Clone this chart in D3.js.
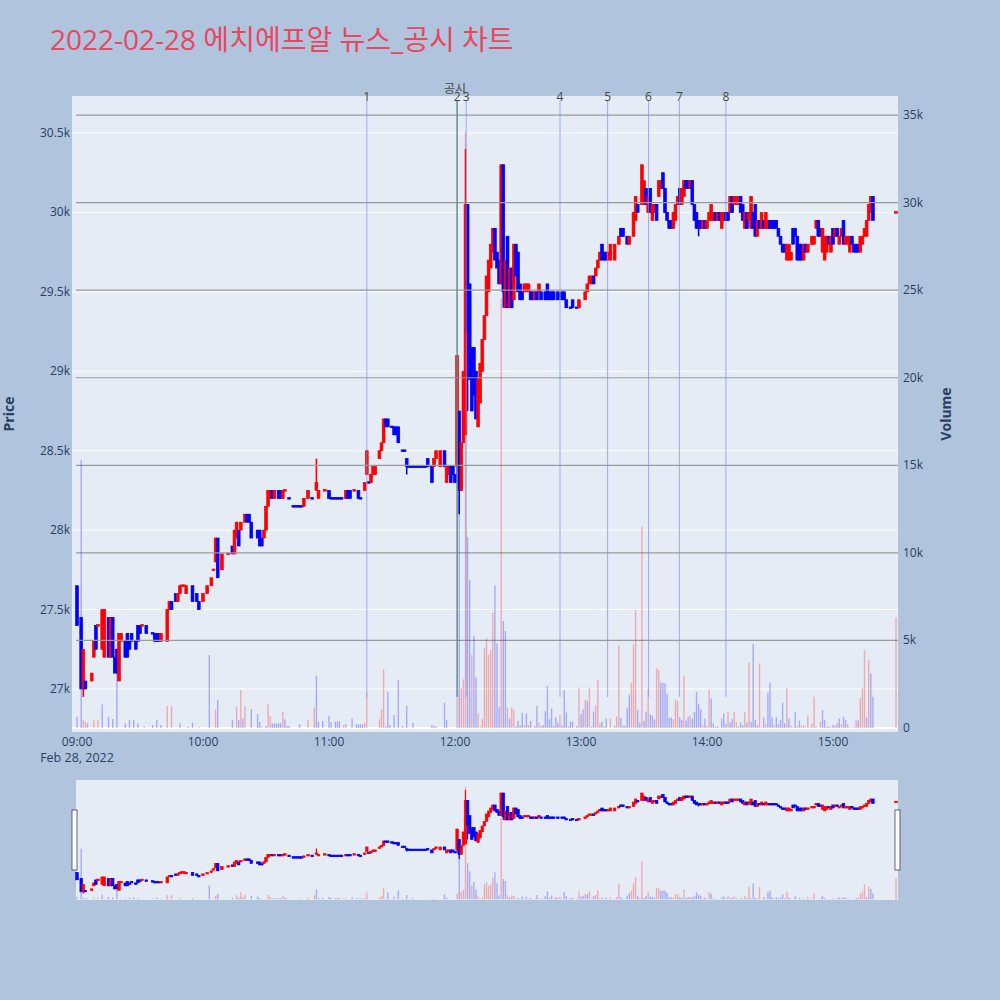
<!DOCTYPE html>
<html><head><meta charset="utf-8">
<script src="https://cdn.jsdelivr.net/npm/d3@7"></script>
<style>html,body{margin:0;padding:0;background:#b0c4de;} svg{display:block}</style>
</head><body>
<svg id="chart" width="1000" height="1000"></svg>
<script>
// ---------------- DATA ----------------
const chartTitle = "2022-02-28 에치에프알 뉴스_공시 차트";
// candle minute offsets from 09:00
const candleMinute = [
0,2,3,4,7,8,9,10,12,13, 15,16,17,18,19,20,21,23,24,25, 26,28,29,30,31,33,36,37,38,39,
40,43,44,45,47,48,49,50,51,52, 55,57,58,60,62,64,65,66,67,69, 72,74,75,76,77,78,80,81,82,83,
86,87,88,89,90,91,92,93,94,96, 97,98,99,101,103,104,105,106,107,108, 110,112,114,115,118,120,121,122,123,124,
125,126,128,129,130,132,134,135,137,138, 139,140,141,142,144,145,146,147,148,150, 151,152,153,155,156,157,158,159,160,161,
162,163,164,165,166,167,169,170,171,173, 175,176,177,178,179,180,181,182,183,184, 185,186,187,188,189,190,191,192,193,194,
195,196,197,198,199,200,201,202,203,204, 205,206,207,208,209,210,211,212,213,214, 215,216,217,218,219,220,221,223,224,225,
226,227,229,231,232,233,235,236,238,239, 242,243,244,245,246,247,248,249,250,251, 252,253,254,256,258,259,260,262,263,265,
266,267,269,270,271,272,273,274,275,276, 277,278,279,280,281,282,283,284,285,286, 287,288,289,290,291,292,293,294,295,296,
297,298,299,300,301,302,303,304,305,306, 307,308,309,310,311,312,313,314,315,316, 317,318,319,320,321,322,323,324,325,326,
327,328,329,330,331,332,333,334,335,336, 337,338,339,340,341,342,343,344,345,346, 347,348,350,351,352,353,354,355,356,357,
358,359,360,361,362,363,364,365,366,367, 368,369,370,371,372,373,374,375,376,377, 378,379,390];
const openPrice = [
27650,27450,27000,27050,27050,27200,27400,27400,27250,27200, 27450,27200,27450,27200,27250,27050,27300,27300,27350,27300,
27350,27300,27400,27400,27400,27400,27350,27350,27350,27350, 27300,27300,27500,27550,27600,27550,27600,27650,27650,27600,
27650,27600,27550,27550,27600,27650,27750,27800,27950,27750, 27850,27900,27850,27950,28000,28000,28050,28100,28100,28050,
28000,28000,27950,27950,28000,28150,28200,28250,28200,28250, 28250,28200,28250,28200,28150,28150,28150,28150,28150,28150,
28200,28200,28250,28200,28250,28250,28200,28200,28200,28200, 28200,28200,28200,28250,28250,28250,28250,28200,28250,28350,
28300,28300,28350,28350,28450,28500,28550,28700,28700,28650, 28650,28650,28650,28500,28500,28450,28400,28400,28400,28400,
28400,28400,28400,28400,28400,28450,28400,28400,28450,28400, 28500,28300,28350,28400,28400,28350,28400,28750,28250,28550,
28600,30050,29550,29150,29150,29000,28650,28800,29000,29200, 29350,29500,29650,29750,29900,29750,29700,29550,30300,29400,
29850,29400,29650,29450,29800,29750,29550,29500,29500,29500, 29500,29500,29500,29450,29500,29500,29500,29500,29550,29500,
29500,29500,29500,29500,29500,29450,29400,29450,29400,29400, 29450,29500,29550,29550,29600,29600,29650,29700,29800,29750,
29750,29700,29700,29700,29800,29900,29900,29850,29800,29850, 29950,30050,30050,30050,30150,30000,30150,29950,30000,30050,
30100,30150,30250,30150,30000,29950,29950,29900,29950,30050, 30150,30050,30100,30200,30200,30150,30200,30050,30000,29950,
29950,29900,29950,29900,29950,29950,29950,30000,29950,30000, 29900,29950,30000,30000,30000,30100,30050,30050,30050,30100,
30050,29900,30000,29950,29900,30000,30050,29850,29950,29900, 29950,29900,29900,29950,29950,29950,29950,29900,29850,29800,
29800,29700,29700,29700,29900,29900,29850,29800,29800,29700, 29800,29750,29800,29800,29900,29950,29900,29750,29700,29750,
29850,29750,29900,29850,29900,29800,29850,29950,29800,29800, 29750,29850,29800,29800,29800,29750,29800,29850,29850,29950,
30000,30100,30000];
const highPrice = [
27650,27450,27250,27050,27100,27300,27400,27400,27500,27500, 27450,27450,27450,27200,27250,27350,27350,27300,27350,27300,
27350,27300,27400,27400,27400,27400,27350,27350,27350,27350, 27350,27500,27550,27550,27600,27600,27650,27650,27650,27650,
27650,27600,27550,27600,27650,27700,27750,27950,27950,27850, 27850,27900,28000,28050,28000,28050,28100,28100,28100,28050,
28000,28000,27950,28000,28150,28250,28250,28250,28250,28250, 28250,28250,28250,28200,28150,28150,28150,28150,28150,28200,
28250,28200,28450,28250,28250,28250,28200,28200,28200,28200, 28200,28200,28250,28250,28250,28250,28250,28200,28300,28500,
28300,28350,28400,28400,28500,28550,28700,28700,28700,28650, 28650,28650,28650,28500,28500,28450,28400,28400,28400,28400,
28400,28400,28400,28400,28400,28450,28400,28450,28500,28500, 28500,28400,28400,28400,28400,28350,29100,28750,28550,29000,
30400,30050,29550,29150,29150,29000,28950,29050,29200,29350, 29600,29700,29800,29900,29900,29750,29700,30300,30300,29700,
29850,29650,29650,29800,29800,29750,29550,29500,29550,29550, 29550,29500,29500,29500,29500,29550,29500,29500,29550,29500,
29500,29500,29500,29500,29500,29450,29400,29450,29400,29450, 29500,29550,29600,29600,29600,29650,29700,29750,29800,29750,
29750,29750,29800,29800,29850,29900,29900,29850,29850,30000, 30100,30050,30300,30200,30150,30100,30150,30050,30050,30050,
30200,30200,30250,30150,30000,29950,29950,30000,30050,30100, 30150,30150,30200,30200,30200,30200,30200,30050,30000,29950,
29950,29950,29950,29950,30000,30050,30000,30000,30000,30000, 30000,30000,30000,30000,30100,30100,30100,30100,30100,30100,
30050,30000,30000,30000,30100,30000,30050,29950,29950,30000, 29950,30000,29950,29950,29950,29950,29950,29900,29850,29800,
29800,29800,29800,29750,29900,29900,29850,29800,29800,29800, 29800,29800,29850,29850,29950,29950,29900,29900,29850,29850,
29850,29850,29900,29900,29900,29850,29900,29950,29850,29850, 29850,29850,29800,29800,29800,29850,29850,29900,29950,30050,
30100,30100,30000];
const lowPrice = [
27400,27000,26950,27000,27050,27200,27250,27400,27250,27200, 27200,27200,27200,27100,27100,27050,27300,27200,27200,27250,
27300,27250,27300,27350,27400,27350,27350,27300,27300,27300, 27300,27300,27500,27500,27550,27550,27600,27650,27650,27600,
27550,27550,27500,27550,27600,27650,27750,27800,27700,27750, 27850,27850,27850,27950,27900,28000,28050,28050,28050,27950,
27950,27900,27900,27950,28000,28150,28200,28200,28200,28200, 28200,28200,28250,28200,28150,28150,28150,28150,28150,28150,
28200,28200,28250,28200,28250,28200,28200,28200,28200,28200, 28200,28200,28200,28200,28200,28250,28200,28200,28250,28350,
28300,28300,28350,28350,28450,28500,28550,28650,28650,28650, 28600,28600,28550,28500,28500,28350,28400,28400,28400,28400,
28400,28400,28400,28400,28400,28400,28300,28400,28450,28400, 28400,28300,28350,28300,28350,28300,28300,28100,28250,28550,
28600,28750,28950,28750,28850,28700,28650,28800,29000,29200, 29350,29500,29650,29750,29700,29650,29550,29550,29400,29400,
29400,29400,29400,29450,29600,29500,29450,29450,29500,29500, 29500,29450,29450,29450,29450,29500,29450,29450,29450,29450,
29450,29450,29450,29450,29450,29400,29400,29400,29400,29400, 29450,29500,29550,29550,29550,29600,29650,29700,29700,29700,
29700,29700,29700,29700,29800,29850,29850,29800,29800,29850, 29950,30000,30050,30050,30050,30000,30000,29950,30000,29950,
30100,30150,30150,30000,29950,29900,29900,29900,29950,30050, 30050,30050,30100,30150,30150,30150,30050,29950,29900,29850,
29900,29900,29900,29900,29950,29950,29950,29950,29950,29950, 29900,29950,29950,29950,30000,30000,30050,30050,30050,30000,
29950,29900,29900,29950,29900,29900,29850,29850,29900,29900, 29900,29900,29900,29900,29900,29900,29900,29850,29800,29750,
29750,29700,29700,29700,29800,29850,29700,29700,29700,29700, 29750,29750,29800,29800,29900,29850,29850,29750,29700,29750,
29800,29750,29800,29850,29850,29800,29850,29800,29800,29800, 29750,29800,29750,29750,29750,29750,29800,29850,29850,29950,
30000,29950,30000];
const closePrice = [
27400,27000,27250,27000,27100,27300,27250,27400,27500,27500, 27200,27450,27200,27100,27100,27350,27350,27200,27200,27250,
27300,27250,27300,27350,27400,27350,27350,27300,27300,27300, 27350,27500,27550,27500,27550,27600,27650,27650,27650,27650,
27550,27550,27500,27600,27650,27700,27750,27950,27700,27850, 27850,27850,28000,28050,27900,28050,28100,28050,28050,27950,
27950,27900,27900,28000,28150,28250,28250,28200,28250,28200, 28200,28250,28250,28200,28150,28150,28150,28150,28150,28200,
28250,28200,28300,28250,28250,28200,28200,28200,28200,28200, 28200,28200,28250,28200,28200,28250,28200,28200,28300,28500,
28300,28350,28400,28400,28500,28550,28700,28650,28650,28650, 28600,28600,28550,28500,28500,28400,28400,28400,28400,28400,
28400,28400,28400,28400,28400,28400,28300,28450,28500,28500, 28400,28400,28400,28300,28350,28300,29100,28250,28550,29000,
30050,29250,28950,28750,28850,28700,28950,29050,29200,29350, 29600,29700,29800,29900,29700,29650,29550,30300,29500,29700,
29400,29650,29400,29800,29600,29500,29450,29450,29550,29550, 29550,29450,29450,29500,29450,29550,29450,29450,29450,29450,
29450,29450,29450,29450,29450,29400,29400,29400,29400,29450, 29500,29550,29600,29600,29550,29650,29700,29750,29700,29700,
29700,29750,29800,29800,29850,29850,29850,29800,29850,30000, 30100,30000,30300,30200,30050,30100,30000,30050,30050,29950,
30200,30200,30150,30000,29950,29900,29900,30000,30050,30100, 30050,30150,30200,30150,30150,30200,30050,29950,29900,29900,
29900,29950,29900,29950,30000,30050,30000,29950,30000,29950, 30000,30000,29950,29950,30100,30000,30100,30100,30100,30000,
29950,30000,29900,30000,30100,29900,29850,29950,29900,30000, 29900,30000,29950,29900,29900,29900,29900,29850,29800,29750,
29750,29800,29800,29750,29800,29850,29700,29700,29700,29800, 29750,29800,29850,29850,29950,29850,29850,29900,29850,29850,
29800,29850,29800,29900,29850,29850,29900,29800,29850,29850, 29850,29800,29750,29750,29750,29850,29850,29900,29950,30050,
30100,29950,30000];

const volumeMinute = [
0,2,3,4,5,8,10,12,15,17, 19,23,25,27,29,32,36,38,40,43, 45,49,53,55,58,63,66,67,74,76,
77,78,79,80,83,86,87,88,90,91, 92,93,94,95,96,97,98,99,100,101, 106,110,113,114,115,117,120,121,123,124,
125,127,128,131,133,134,135,136,137,138, 144,145,146,147,148,149,151,153,155,157, 160,169,170,171,175,176,181,182,183,184,
185,186,187,188,189,190,191,192,193,194, 195,196,197,198,199,200,201,202,203,204, 205,206,207,208,209,210,211,212,213,214,
215,216,218,219,220,221,222,223,224,225, 226,227,228,229,230,231,232,233,234,235, 236,238,239,240,241,242,243,244,245,246,
247,248,249,250,251,252,254,256,257,258, 259,260,261,262,263,264,265,266,267,268, 269,270,271,272,273,274,275,276,277,278,
279,280,281,282,283,284,285,286,287,288, 289,290,291,292,293,294,295,296,297,298, 299,300,301,302,303,304,305,306,307,308,
309,310,311,312,313,314,315,316,317,318, 319,320,321,322,323,324,325,326,327,328, 329,330,331,332,333,334,335,336,337,338,
339,340,341,342,343,344,345,346,347,348, 349,350,351,352,354,355,356,357,358,359, 360,361,362,363,364,365,366,367,368,369,
370,371,372,373,374,375,376,377,378,379, 390];
const volumeValue = [
650,15300,457,360,266,457,457,1350,650,514, 4170,266,457,457,266,76,171,457,171,1256, 1256,266,76,305,38,4170,1066,1600,457,1218,
457,2170,550,1256,1085,800,340,76,114,1350, 685,266,266,266,266,266,913,495,114,114, 210,457,1160,2990,360,400,700,330,360,360,
400,171,228,550,210,210,210,210,305,2000, 495,1066,3350,76,2074,171,742,2740,114,1256, 305,171,114,114,1446,457,1750,16000,2265,2780,
34000,10900,8450,4170,5250,2890,837,76,514,4550, 5120,4170,4450,6580,8140,4830,1180,24500,6110,5540, 1160,550,1180,1030,76,400,150,875,171,837,
171,400,114,1256,305,114,171,970,2400,495, 1120,114,610,305,742,133,2170,894,76,360, 360,114,2320,800,1066,1600,1560,2320,76,933,
1275,2740,266,360,76,550,533,133,647,4720, 590,133,133,1120,1884,2590,4780,6740,1030,305, 11500,400,930,2200,780,720,495,3400,3310,2590,
2590,2550,1940,590,590,514,1600,1540,610,457, 2990,420,650,704,530,913,2074,1370,1066,170, 530,130,2200,1675,266,57,95,38,530,840,
228,913,305,530,930,323,76,323,171,930, 305,3730,342,4800,457,171,3690,38,610,228, 2020,2590,610,171,610,228,457,1446,266,2265,
550,133,38,930,114,420,114,171,38,700, 38,266,1790,76,360,1030,457,76,76,38, 171,133,266,533,228,650,457,228,38,19,
76,495,420,1710,2280,4450,610,3880,3120,1790, 6320];
const volumeUp = [
0,0,1,1,0,1,1,0,0,0, 0,0,0,0,0,0,0,0,0,1, 1,0,0,0,0,0,1,0,0,1,
0,1,0,1,0,0,0,1,0,1, 1,0,0,0,0,0,1,0,0,0, 0,1,1,0,0,0,0,0,0,0,
0,1,1,0,0,0,0,0,1,1, 1,1,1,0,0,0,0,0,0,0, 0,0,0,1,0,0,1,0,1,1,
1,0,0,1,0,0,1,1,1,1, 1,1,1,1,0,0,0,1,0,0, 1,0,1,1,0,0,0,0,1,0,
1,0,0,0,1,0,0,0,0,0, 0,0,0,0,1,0,0,0,0,0, 0,0,1,0,0,1,0,1,0,0,
1,1,1,0,0,0,1,0,1,1, 0,0,0,0,0,1,1,1,0,0, 1,0,0,1,0,0,0,1,1,0,
0,0,0,0,0,1,1,1,0,0, 1,0,0,1,0,0,0,0,0,1, 0,1,1,0,0,0,0,1,0,0,
0,1,0,0,1,1,0,0,0,1, 0,1,0,0,0,0,1,0,0,1, 0,0,0,1,0,0,0,0,0,1,
0,1,0,0,1,0,1,1,0,1, 0,1,1,0,1,0,0,0,0,0, 0,1,0,0,1,0,0,1,0,1,
1,1,0,1,1,1,0,1,0,0, 1];

const newsTimes = ["11:18:00","12:01:00","12:05:20","12:50:00","13:12:40","13:32:10","13:46:50","14:09:00"];
const newsLabels = ["1","2","3","4","5","6","7","8"];
const disclosureTime = "12:01:00";
const disclosureLabel = "공시";

const priceTicks = [27000,27500,28000,28500,29000,29500,30000,30500];
const priceTickLabels = ["27k","27.5k","28k","28.5k","29k","29.5k","30k","30.5k"];
const volumeTicks = [0,5000,10000,15000,20000,25000,30000,35000];
const volumeTickLabels = ["0","5k","10k","15k","20k","25k","30k","35k"];
const timeTicks = ["09:00","10:00","11:00","12:00","13:00","14:00","15:00"];
const dateLabel = "Feb 28, 2022";

// ---------------- LAYOUT ----------------
const L = 72, R = 898, T = 96, B = 732;
const SL_T = 780, SL_B = 900;
const FONT = "'Open Sans','Noto Sans CJK KR',sans-serif";
const UP = "#ff0000", DOWN = "#0000ff";
const base = new Date(2022, 1, 28, 9, 0, 0);
const toDate = m => new Date(base.getTime() + m * 60000);
const parseT = s => { const p = s.split(":").map(Number); return (p[0]-9)*60 + p[1] + (p[2]||0)/60; };

const x = d3.scaleTime().domain([toDate(-2.38), toDate(390.95)]).range([L, R]);
const yP = d3.scaleLinear().domain([26729, 30733]).range([B, T]);
const yV = d3.scaleLinear().domain([-228, 36087]).range([B, T]);
const yPm = d3.scaleLinear().domain([26729, 30733]).range([SL_B, SL_T]);
const yVm = d3.scaleLinear().domain([-228, 36087]).range([SL_B, SL_T]);

const candles = candleMinute.map((m, i) => ({m, o: openPrice[i], h: highPrice[i], l: lowPrice[i], c: closePrice[i]}));
candles.forEach((d, i) => {
  if (d.c > d.o) d.up = true;
  else if (d.c < d.o) d.up = false;
  else if (i === 0) d.up = true;
  else { const pc = candles[i-1].c; d.up = d.c > pc ? true : (d.c < pc ? false : candles[i-1].up); }
});
const vols = volumeMinute.map((m, i) => ({m, v: volumeValue[i], up: volumeUp[i] === 1}));

const svg = d3.select("#chart");
svg.append("rect").attr("width", 1000).attr("height", 1000).attr("fill", "#b0c4de");

// title
svg.append("text").attr("x", 50).attr("y", 50).attr("font-family", FONT).attr("font-size", 28)
  .attr("fill", "#e8475e").text(chartTitle);

// plot background
svg.append("rect").attr("x", L).attr("y", T).attr("width", R - L).attr("height", B - T).attr("fill", "#e5ecf6");

const clipId = "plotclip";
svg.append("clipPath").attr("id", clipId).append("rect").attr("x", L).attr("y", T).attr("width", R-L).attr("height", B-T);
const plot = svg.append("g").attr("clip-path", `url(#${clipId})`);

// price grid
plot.append("g").selectAll("line").data(priceTicks).join("line")
  .attr("x1", L).attr("x2", R).attr("y1", d => yP(d)).attr("y2", d => yP(d))
  .attr("stroke", "#ffffff").attr("stroke-width", 1);

function drawCandles(g, ys, w, wickW, minH, sw) {
  g.selectAll("line.wick").data(candles).join("line").attr("class","wick")
    .attr("x1", d => x(toDate(d.m))).attr("x2", d => x(toDate(d.m)))
    .attr("y1", d => ys(d.h)).attr("y2", d => ys(d.l))
    .attr("stroke", d => d.up ? UP : DOWN).attr("stroke-width", wickW);
  g.selectAll("rect.body").data(candles).join("rect").attr("class","body")
    .attr("x", d => x(toDate(d.m)) - w/2).attr("width", w)
    .attr("y", d => { const a = ys(Math.max(d.o, d.c)), b = ys(Math.min(d.o, d.c)); return (b - a) < minH ? (a + b)/2 - minH/2 : a; })
    .attr("height", d => Math.max(minH, ys(Math.min(d.o, d.c)) - ys(Math.max(d.o, d.c))))
    .attr("fill", d => d.up ? UP : DOWN)
    .attr("stroke", d => d.up ? UP : DOWN).attr("stroke-width", sw);
}
drawCandles(plot.append("g"), yP, 2.8, 1.6, 1.6, 0.7);

// volume zero line and grid
plot.append("line").attr("x1", L).attr("x2", R).attr("y1", yV(0)).attr("y2", yV(0)).attr("stroke", "#ffffff").attr("stroke-width", 2);
plot.append("g").selectAll("line").data(volumeTicks.slice(1)).join("line")
  .attr("x1", 76).attr("x2", R).attr("y1", d => yV(d)).attr("y2", d => yV(d))
  .attr("stroke", "#9a9a9a").attr("stroke-width", 1.2);

// volume bars
plot.append("g").selectAll("rect").data(vols).join("rect")
  .attr("x", d => x(toDate(d.m)) - 0.7).attr("width", 1.4)
  .attr("y", d => yV(d.v)).attr("height", d => yV(0) - yV(d.v))
  .attr("fill", d => d.up ? UP : DOWN).attr("fill-opacity", 0.28);

// news lines
const newsG = svg.append("g");
newsTimes.forEach((s, i) => {
  const xx = x(toDate(parseT(s)));
  newsG.append("line").attr("x1", xx).attr("x2", xx).attr("y1", 101).attr("y2", 697)
    .attr("stroke", "#7b90f0").attr("stroke-opacity", 0.7).attr("stroke-width", 1);
  newsG.append("text").attr("x", xx).attr("y", 101).attr("text-anchor", "middle")
    .attr("font-family", FONT).attr("font-size", 12).attr("fill", "#444").text(newsLabels[i]);
});
{
  const xx = x(toDate(parseT(disclosureTime)));
  newsG.append("line").attr("x1", xx).attr("x2", xx).attr("y1", 101).attr("y2", 697)
    .attr("stroke", "#5f8a72").attr("stroke-width", 1.2);
  newsG.append("text").attr("x", xx - 2).attr("y", 93).attr("text-anchor", "middle")
    .attr("font-family", FONT).attr("font-size", 12).attr("fill", "#444").text(disclosureLabel);
}

// axes labels
const axisG = svg.append("g").attr("font-family", FONT).attr("font-size", 12).attr("fill", "#2a3f5f");
priceTicks.forEach((v, i) => axisG.append("text").attr("x", 70).attr("y", yP(v) + 4).attr("text-anchor", "end").text(priceTickLabels[i]));
volumeTicks.forEach((v, i) => axisG.append("text").attr("x", 903).attr("y", yV(v) + 4).attr("text-anchor", "start").text(volumeTickLabels[i]));
timeTicks.forEach((s) => axisG.append("text").attr("x", x(toDate(parseT(s)))).attr("y", 746).attr("text-anchor", "middle").text(s));
axisG.append("text").attr("x", x(toDate(0))).attr("y", 762).attr("text-anchor", "middle").attr("font-size", 12.5).text(dateLabel);

svg.append("text").attr("transform", "translate(14,414) rotate(-90)").attr("text-anchor", "middle")
  .attr("font-family", FONT).attr("font-size", 14).attr("font-weight", "bold").attr("fill", "#2a3f5f").text("Price");
svg.append("text").attr("transform", "translate(951,414) rotate(-90)").attr("text-anchor", "middle")
  .attr("font-family", FONT).attr("font-size", 14).attr("font-weight", "bold").attr("fill", "#2a3f5f").text("Volume");

// range slider
svg.append("rect").attr("x", 76).attr("y", SL_T).attr("width", R - 76).attr("height", SL_B - SL_T).attr("fill", "#e5ecf6");
const sl = svg.append("g");
sl.append("g").selectAll("rect").data(vols).join("rect")
  .attr("x", d => x(toDate(d.m)) - 0.7).attr("width", 1.4)
  .attr("y", d => yVm(d.v)).attr("height", d => yVm(0) - yVm(d.v))
  .attr("fill", d => d.up ? UP : DOWN).attr("fill-opacity", 0.28);
drawCandles(sl.append("g"), yPm, 2.6, 1.2, 1.6, 0.6);
[74.5, 897.5].forEach(xx => {
  svg.append("rect").attr("x", xx - 2.5).attr("y", 810).attr("width", 5).attr("height", 60)
    .attr("fill", "#ffffff").attr("stroke", "#444").attr("stroke-width", 0.8);
});
</script>
</body></html>
